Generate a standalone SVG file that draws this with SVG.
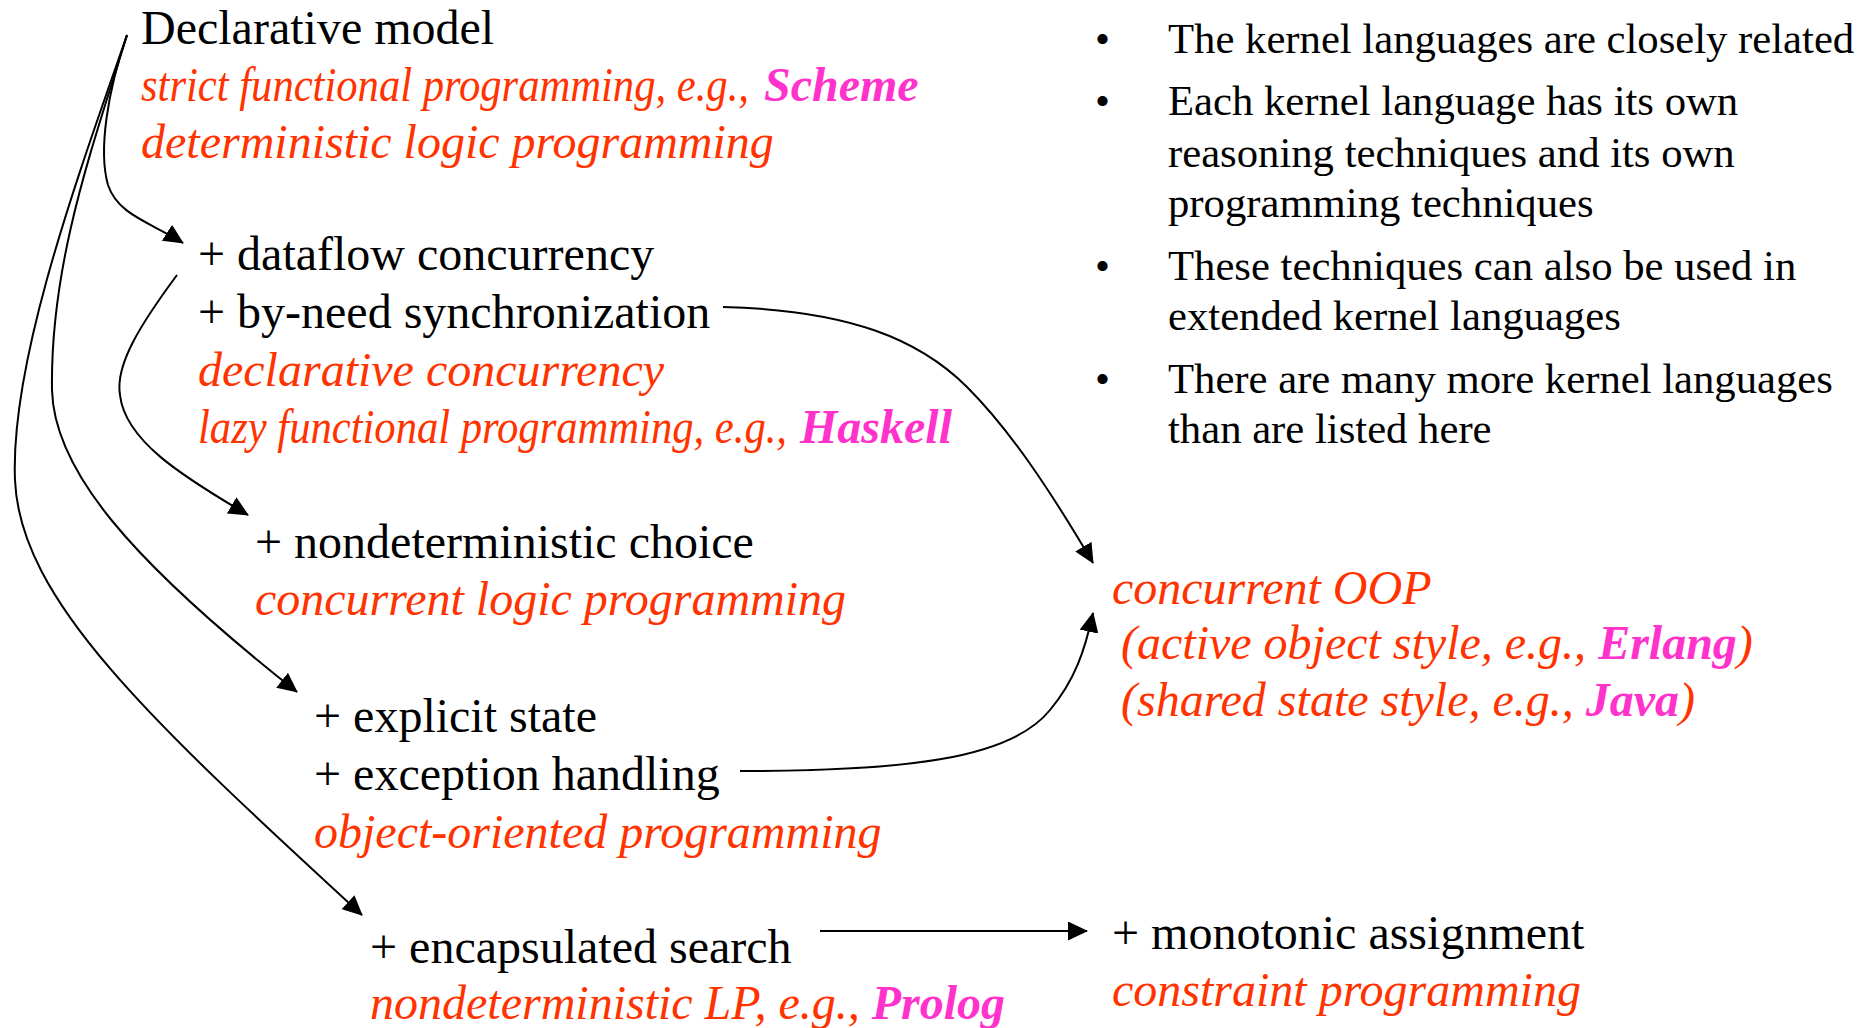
<svg xmlns="http://www.w3.org/2000/svg" width="1874" height="1028" viewBox="0 0 1874 1028">
<style>
.t{font-family:"Liberation Serif","Times New Roman",serif;font-size:48px;fill:#000}
.r{font-family:"Liberation Serif","Times New Roman",serif;font-size:48px;font-style:italic;fill:#FF3300}
.m{font-family:"Liberation Serif","Times New Roman",serif;font-size:48px;font-style:italic;font-weight:bold;fill:#FF33CC}
.b{font-family:"Liberation Serif","Times New Roman",serif;font-size:42.7px;fill:#000}
.c{fill:none;stroke:#000;stroke-width:2;marker-end:url(#ah)}
</style>
<defs>
<marker id="ah" markerUnits="userSpaceOnUse" markerWidth="20" markerHeight="19" viewBox="0 0 20 19" refX="19" refY="9.5" orient="auto">
<path d="M0,0 L20,9.5 L0,19 z" fill="#000"/>
</marker>
</defs>
<rect width="1874" height="1028" fill="#fff"/>
<g id="connectors">
<path class="c" d="M127,35 C108,90 98,150 108,185 C118,215 150,222 183,243"/>
<path class="c" d="M127,35 C95,140 50,260 52,390 C54,470 130,560 297,692"/>
<path class="c" d="M127,35 C80,170 10,360 15,480 C20,600 150,720 362,915"/>
<path class="c" d="M177,275 C140,325 115,365 120,395 C125,440 180,475 248,515"/>
<path class="c" d="M723,307 C850,310 920,340 967,387 C1010,430 1050,490 1093,563"/>
<path class="c" d="M740,771 C900,771 1010,760 1050,710 C1075,680 1085,650 1093,613"/>
<path class="c" d="M820,931 L1087,931"/>
</g>
<g id="n-declarative">
<text class="t" x="141" y="44">Declarative model</text>
<text class="r" transform="translate(141,101) scale(0.888,1)" x="0" y="0">strict functional programming, e.g.,</text>
<text class="m" x="764" y="101">Scheme</text>
<text class="r" x="141" y="158">deterministic logic programming</text>
</g>
<g id="n-dataflow">
<text class="t" x="198" y="270">+ dataflow concurrency</text>
<text class="t" x="198" y="328">+ by-need synchronization</text>
<text class="r" x="198" y="386">declarative concurrency</text>
<text class="r" transform="translate(198,443) scale(0.888,1)" x="0" y="0">lazy functional programming, e.g.,</text>
<text class="m" x="800" y="443">Haskell</text>
</g>
<g id="n-nondet">
<text class="t" x="255" y="558">+ nondeterministic choice</text>
<text class="r" x="255" y="615">concurrent logic programming</text>
</g>
<g id="n-state">
<text class="t" x="314" y="732">+ explicit state</text>
<text class="t" x="314" y="790">+ exception handling</text>
<text class="r" x="314" y="848">object-oriented programming</text>
</g>
<g id="n-search">
<text class="t" x="370" y="963">+ encapsulated search</text>
<text class="r" x="370" y="1019">nondeterministic LP, e.g., <tspan class="m">Prolog</tspan></text>
</g>
<g id="n-coop">
<text class="r" x="1112" y="604">concurrent OOP</text>
<text class="r" x="1121" y="659">(active object style, e.g., <tspan class="m">Erlang</tspan>)</text>
<text class="r" x="1121" y="716">(shared state style, e.g., <tspan class="m">Java</tspan>)</text>
</g>
<g id="n-constraint">
<text class="t" x="1112" y="949">+ monotonic assignment</text>
<text class="r" x="1112" y="1006">constraint programming</text>
</g>
<g id="notes">
<text class="b" x="1095" y="53">•</text>
<text class="b" x="1168" y="53">The kernel languages are closely related</text>
<text class="b" x="1095" y="115">•</text>
<text class="b" x="1168" y="115">Each kernel language has its own</text>
<text class="b" x="1168" y="167">reasoning techniques and its own</text>
<text class="b" x="1168" y="217">programming techniques</text>
<text class="b" x="1095" y="280">•</text>
<text class="b" x="1168" y="280">These techniques can also be used in</text>
<text class="b" x="1168" y="330">extended kernel languages</text>
<text class="b" x="1095" y="393">•</text>
<text class="b" x="1168" y="393">There are many more kernel languages</text>
<text class="b" x="1168" y="443">than are listed here</text>
</g>
</svg>
